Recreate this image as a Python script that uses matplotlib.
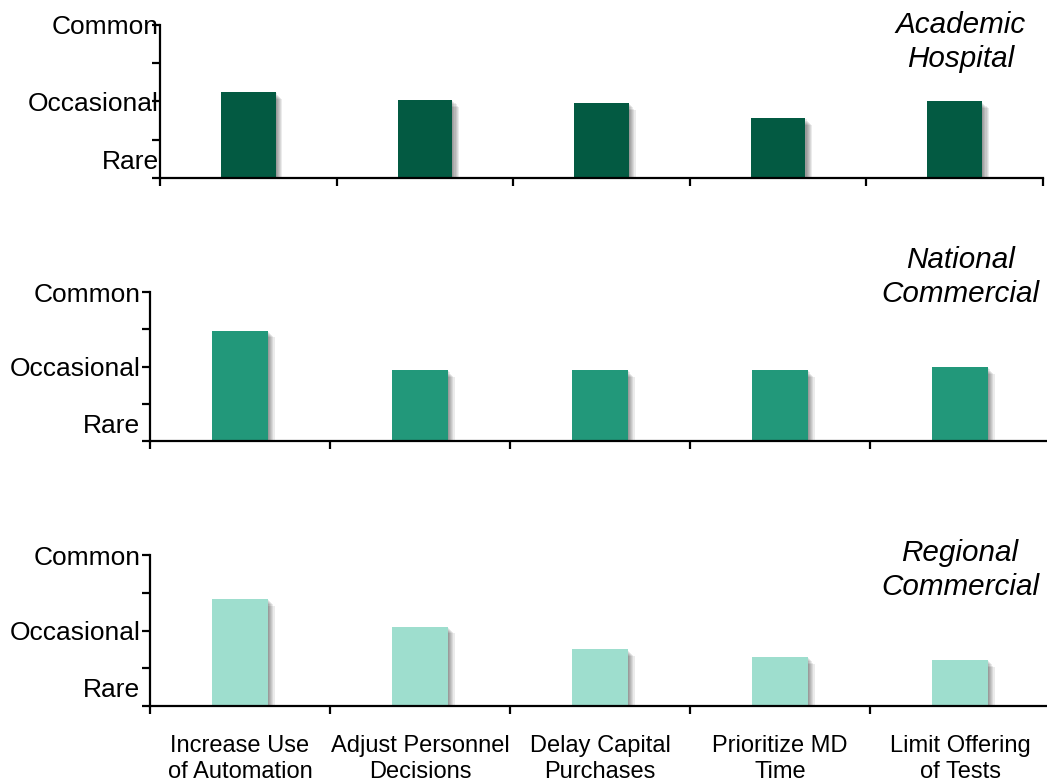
import matplotlib.pyplot as plt
import matplotlib.patheffects as pe

plt.rcParams["font.family"] = ["Liberation Sans", "DejaVu Sans"]

categories = [
    "Increase Use\nof Automation",
    "Adjust Personnel\nDecisions",
    "Delay Capital\nPurchases",
    "Prioritize MD\nTime",
    "Limit Offering\nof Tests",
]

# 0 = axis floor, 1 = Occasional, 2 = Common
academic = [1.12, 1.02, 0.98, 0.78, 1.00]
national = [1.48, 0.95, 0.95, 0.95, 0.99]
regional = [1.42, 1.05, 0.75, 0.65, 0.61]

level_ticks = [0.24, 1, 2]
level_labels = ["Rare", "Occasional", "Common"]

panels = [
    # values, title, colour, axes rect, title xy (axes coords), label pad
    (academic, "Academic\nHospital", "#035A42",
     [0.1528, 0.7721, 0.8434, 0.1959], (0.907, 0.89), -5),
    (national, "National\nCommercial", "#22987A",
     [0.1433, 0.4353, 0.8596, 0.1908], (0.90, 1.10), 1),
    (regional, "Regional\nCommercial", "#9EDECE",
     [0.1433, 0.0960, 0.8596, 0.1933], (0.90, 0.90), 1),
]

fig = plt.figure(figsize=(10.47, 7.81), dpi=100)

shadow = [
    pe.SimplePatchShadow(offset=(0.8 * k, -0.8 * k), shadow_rgbFace="black", alpha=0.08)
    for k in range(1, 7)
] + [pe.Normal()]

for i, (values, title, color, rect, title_xy, pad) in enumerate(panels):
    ax = fig.add_axes(rect)
    xs = [j + 0.5 for j in range(len(values))]
    bars = ax.bar(xs, values, width=0.31, color=color, zorder=2)
    for b in bars:
        b.set_path_effects(shadow)

    ax.set_xlim(0, 5)
    ax.set_ylim(0, 2)

    for side in ["top", "right"]:
        ax.spines[side].set_visible(False)
    for side in ["left", "bottom"]:
        ax.spines[side].set_linewidth(1.6)
        ax.spines[side].set_zorder(3)

    ax.set_yticks(level_ticks)
    ax.set_yticklabels(level_labels, fontsize=19)
    ax.set_yticks([0, 0.5, 1.5], minor=True)
    ax.tick_params(axis="y", which="both", direction="out", length=6, width=1.6, pad=pad)
    ax.yaxis.get_major_ticks()[0].tick1line.set_visible(False)

    ax.set_xticks(range(6))
    ax.set_xticklabels([])
    ax.tick_params(axis="x", which="major", direction="out", length=6, width=1.6)
    if i == 2:
        ax.set_xticks(xs, minor=True)
        ax.set_xticklabels(categories, minor=True, fontsize=17, linespacing=1.2)
        ax.tick_params(axis="x", which="minor", length=0, pad=21)

    ax.text(title_xy[0], title_xy[1], title, transform=ax.transAxes,
            ha="center", va="center", fontsize=21.3, style="italic",
            linespacing=1.3)

fig.savefig("out.png", dpi=100)
